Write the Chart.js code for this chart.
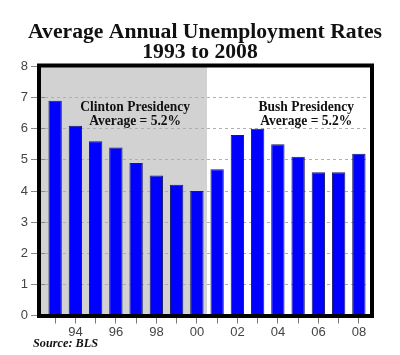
<!DOCTYPE html>
<html>
<head>
<meta charset="utf-8">
<script src="https://cdn.jsdelivr.net/npm/chart.js@4/dist/chart.umd.min.js"></script>
<style>
html,body{margin:0;padding:0;background:#fff;}
canvas{display:block;}
</style>
</head>
<body>
<canvas id="c" width="400" height="355"></canvas>
<script>
const years = ['1993','1994','1995','1996','1997','1998','1999','2000','2001','2002','2003','2004','2005','2006','2007','2008'];
const rates = [6.9, 6.1, 5.6, 5.4, 4.9, 4.5, 4.2, 4.0, 4.7, 5.8, 6.0, 5.5, 5.1, 4.6, 4.6, 5.2];
const xTickLabels = ['', '94', '', '96', '', '98', '', '00', '', '02', '', '04', '', '06', '', '08'];
const yTicks = [0, 1, 2, 3, 4, 5, 6, 7, 8];
const titleLines = ['Average Annual Unemployment Rates', '1993 to 2008'];
const clintonNote = ['Clinton Presidency', 'Average = 5.2%'];
const bushNote = ['Bush Presidency', 'Average = 5.2%'];
const sourceNote = 'Source: BLS';
const clintonYears = 8; // 1993-2000 shaded

const SERIF = '"Liberation Serif", "DejaVu Serif", serif';

function fitFont(ctx, text, weight, target, family) {
  ctx.font = weight + ' 20px ' + family;
  const w = ctx.measureText(text).width;
  return 20 * target / w;
}

const decor = {
  id: 'decor',
  beforeDraw(chart) {
    const {ctx, chartArea: a, scales: {x}} = chart;
    const right = (x.getPixelForValue(clintonYears - 1) + x.getPixelForValue(clintonYears)) / 2;
    ctx.save();
    ctx.fillStyle = '#d2d2d2';
    ctx.fillRect(a.left - 4, a.top, right - (a.left - 4), a.bottom - a.top);
    ctx.restore();
  },
  afterDatasetsDraw(chart) {
    const {ctx, chartArea: a, scales: {x, y}} = chart;
    ctx.save();
    ctx.strokeStyle = '#000';
    ctx.lineWidth = 4;
    ctx.strokeRect(a.left - 6, a.top - 1, (a.right + 3) - (a.left - 6), (a.bottom + 0.5) - (a.top - 1));
    ctx.fillStyle = '#111';
    ctx.textAlign = 'center';
    ctx.textBaseline = 'alphabetic';
    const nfs = fitFont(ctx, 'Average = 5.2%', 'bold', 92, SERIF);
    ctx.font = 'bold ' + nfs.toFixed(2) + 'px ' + SERIF;
    const cx = x.getPixelForValue(3.95);
    const bx = x.getPixelForValue(12.4);
    const y1 = y.getPixelForValue(6.58);
    const y2 = y.getPixelForValue(6.13);
    ctx.fillText(clintonNote[0], cx, y1);
    ctx.fillText(clintonNote[1], cx, y2);
    ctx.fillText(bushNote[0], bx, y1);
    ctx.fillText(bushNote[1], bx, y2);
    ctx.restore();
  },
  afterDraw(chart) {
    const {ctx} = chart;
    ctx.save();
    ctx.fillStyle = '#111';
    ctx.textAlign = 'center';
    ctx.textBaseline = 'alphabetic';
    const tfs = fitFont(ctx, titleLines[0], 'bold', 354, SERIF);
    ctx.font = 'bold ' + tfs.toFixed(2) + 'px ' + SERIF;
    ctx.fillText(titleLines[0], 205, 38);
    ctx.fillText(titleLines[1], 200, 57.5);
    ctx.textAlign = 'left';
    const sfs = fitFont(ctx, sourceNote, 'italic bold', 65, SERIF);
    ctx.font = 'italic bold ' + sfs.toFixed(2) + 'px ' + SERIF;
    ctx.fillText(sourceNote, 33, 347);
    ctx.restore();
  }
};

new Chart(document.getElementById('c'), {
  type: 'bar',
  data: {
    labels: years,
    datasets: [{
      data: rates,
      backgroundColor: '#0000ff',
      borderColor: '#1a1a66',
      borderWidth: 1,
      categoryPercentage: 1,
      barPercentage: 0.66
    }]
  },
  options: {
    responsive: false,
    animation: false,
    devicePixelRatio: 1,
    layout: {padding: {top: 66.5, right: 31, bottom: 0, left: 0}},
    plugins: {legend: {display: false}, tooltip: {enabled: false}, title: {display: false}},
    scales: {
      x: {
        offset: true,
        grid: {display: true, offset: false, drawOnChartArea: false, drawTicks: true, tickLength: 8, color: '#777', lineWidth: 1},
        border: {display: false},
        ticks: {
          autoSkip: false, maxRotation: 0, padding: 1,
          color: '#444', font: {family: '"Liberation Sans", Arial, sans-serif', size: 13},
          callback: (v, i) => xTickLabels[i]
        },
        afterFit: s => { s.height = 39.5; }
      },
      y: {
        min: 0, max: 8,
        afterBuildTicks: s => { s.ticks = yTicks.map(v => ({value: v})); },
        grid: {color: '#b0b0b0', lineWidth: 1, tickLength: 14, tickColor: '#888', tickBorderDash: []},
        border: {display: false, dash: [3, 3]},
        ticks: {padding: 3, color: '#444', font: {family: '"Liberation Sans", Arial, sans-serif', size: 13}},
        afterFit: s => { s.width = 45; }
      }
    }
  },
  plugins: [decor]
});
</script>
</body>
</html>
